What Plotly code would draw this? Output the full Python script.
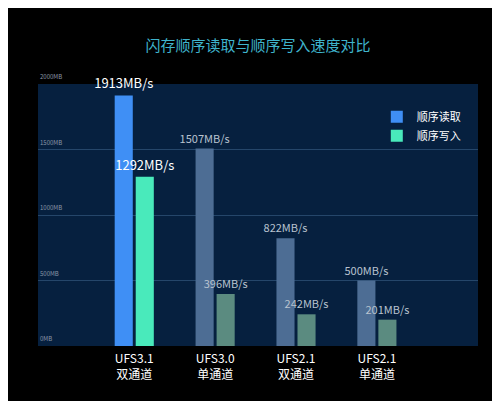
import plotly.graph_objects as go

categories = ["UFS3.1<br>双通道", "UFS3.0<br>单通道", "UFS2.1<br>双通道", "UFS2.1<br>单通道"]
read_vals = [1913, 1507, 822, 500]
write_vals = [1292, 396, 242, 201]
ytick_vals = [0, 500, 1000, 1500, 2000]
ytick_text = ["0MB", "500MB", "1000MB", "1500MB", "2000MB"]

x = list(range(len(categories)))
lab = lambda v: f"{v}MB/s"
fig = go.Figure()
fig.add_bar(x=x, y=read_vals, name="顺序读取",
            marker=dict(color=["#3f8ff5", "#4d6d94", "#4d6d94", "#4d6d94"], line_width=0),
            text=[lab(v) for v in read_vals], textposition="outside", constraintext="none",
            textfont=dict(size=[13, 11, 11, 11], color=["#ffffff", "#b9c3cf", "#b9c3cf", "#b9c3cf"],
                          family="Noto Sans CJK SC"),
            cliponaxis=False)
fig.add_bar(x=x, y=write_vals, name="顺序写入",
            marker=dict(color=["#49eabb", "#5b8b80", "#5b8b80", "#5b8b80"], line_width=0),
            text=[lab(v) for v in write_vals], textposition="outside", constraintext="none",
            textfont=dict(size=[13, 11, 11, 11], color=["#ffffff", "#b9c3cf", "#b9c3cf", "#b9c3cf"],
                          family="Noto Sans CJK SC"),
            cliponaxis=False)
for v, t in zip(ytick_vals, ytick_text):
    fig.add_annotation(x=0, xref="paper", y=v, yref="y", text=t, showarrow=False,
                       xanchor="left", yanchor="bottom", yshift=1,
                       font=dict(size=6, color="#8a96a6"))
fig.update_layout(
    width=500, height=401, margin=dict(l=30, r=30, t=76, b=63),
    paper_bgcolor="#000000", plot_bgcolor="#06203f",
    font=dict(family="Noto Sans CJK SC", color="#ffffff"),
    title=dict(text="闪存顺序读取与顺序写入速度对比", x=0.5, y=0.92, xanchor="center",
               font=dict(size=15, color="#3fb4cc")),
    barmode="group", bargap=0.48, bargroupgap=0.14,
    showlegend=True,
    legend=dict(x=0.77, y=0.93, xanchor="left", yanchor="top", bgcolor="rgba(0,0,0,0)",
                font=dict(size=11, color="#ffffff"), itemsizing="constant"),
    xaxis=dict(tickvals=x, ticktext=categories, range=[-1.19, 4.25], showgrid=False,
               zeroline=False, tickfont=dict(size=12, color="#ffffff"), ticks="",
               ticklabelstandoff=4),
    yaxis=dict(range=[0, 2000], tickvals=ytick_vals, showticklabels=False,
               gridcolor="#25466a", gridwidth=1, zeroline=False),
)
fig.write_html("out.html")
